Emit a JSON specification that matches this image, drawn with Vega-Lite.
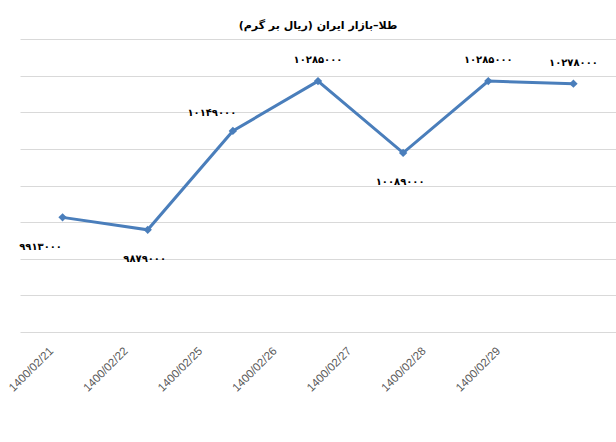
{
  "$schema": "https://vega.github.io/schema/vega-lite/v6.json",
  "autosize": "none",
  "width": 596,
  "height": 293,
  "padding": {"left": 20, "top": 39, "right": 0, "bottom": 110},
  "background": "white",
  "title": {
    "text": "طلا–بازار ایران (ریال بر گرم)",
    "font": "DejaVu Sans",
    "fontSize": 11,
    "fontWeight": "bold",
    "color": "black",
    "anchor": "middle",
    "offset": 8
  },
  "config": {"view": {"stroke": null}},
  "data": {
    "values": [
      {"date": "1400/02/21", "price": 9913000, "label": "۹۹۱۳۰۰۰"},
      {"date": "1400/02/22", "price": 9879000, "label": "۹۸۷۹۰۰۰"},
      {"date": "1400/02/25", "price": 10149000, "label": "۱۰۱۴۹۰۰۰"},
      {"date": "1400/02/26", "price": 10285000, "label": "۱۰۲۸۵۰۰۰"},
      {"date": "1400/02/27", "price": 10089000, "label": "۱۰۰۸۹۰۰۰"},
      {"date": "1400/02/28", "price": 10285000, "label": "۱۰۲۸۵۰۰۰"},
      {"date": "1400/02/29", "price": 10278000, "label": "۱۰۲۷۸۰۰۰"}
    ]
  },
  "encoding": {
    "y": {
      "field": "price",
      "type": "quantitative",
      "scale": {"domain": [9600000, 10400000], "nice": false, "zero": false},
      "axis": {
        "title": null,
        "labels": false,
        "ticks": false,
        "domain": false,
        "grid": true,
        "gridColor": "#d9d9d9",
        "gridWidth": 1,
        "values": [9600000, 9700000, 9800000, 9900000, 10000000, 10100000, 10200000, 10300000, 10400000]
      }
    }
  },
  "layer": [
    {
      "encoding": {
        "x": {
          "field": "date",
          "type": "ordinal",
          "sort": null,
          "scale": {"type": "point", "padding": 0.5},
          "axis": null
        }
      },
      "layer": [
        {"mark": {"type": "line", "color": "#4a7ebb", "strokeWidth": 3}},
        {"mark": {"type": "point", "shape": "diamond", "filled": true, "color": "#4a7ebb", "size": 70, "opacity": 1}},
        {
          "transform": [{"filter": {"field": "date", "oneOf": ["1400/02/26", "1400/02/28", "1400/02/29"]}}],
          "mark": {"type": "text", "font": "DejaVu Sans", "fontWeight": "bold", "fontSize": 10, "color": "black", "dy": -21},
          "encoding": {"text": {"field": "label"}}
        },
        {
          "transform": [{"filter": {"field": "date", "oneOf": ["1400/02/25"]}}],
          "mark": {"type": "text", "font": "DejaVu Sans", "fontWeight": "bold", "fontSize": 10, "color": "black", "dx": -21, "dy": -18},
          "encoding": {"text": {"field": "label"}}
        },
        {
          "transform": [{"filter": {"field": "date", "oneOf": ["1400/02/22", "1400/02/27"]}}],
          "mark": {"type": "text", "font": "DejaVu Sans", "fontWeight": "bold", "fontSize": 10, "color": "black", "dx": -3, "dy": 29},
          "encoding": {"text": {"field": "label"}}
        },
        {
          "transform": [{"filter": {"field": "date", "oneOf": ["1400/02/21"]}}],
          "mark": {"type": "text", "font": "DejaVu Sans", "fontWeight": "bold", "fontSize": 10, "color": "black", "dx": -22, "dy": 30},
          "encoding": {"text": {"field": "label"}}
        }
      ]
    },
    {
      "mark": {"type": "point", "opacity": 0},
      "encoding": {
        "x": {
          "field": "date",
          "type": "ordinal",
          "sort": null,
          "scale": {"type": "point", "padding": 1.11},
          "axis": {
            "orient": "bottom",
            "title": null,
            "domain": false,
            "ticks": false,
            "grid": false,
            "labelAngle": -45,
            "labelAlign": "right",
            "labelBaseline": "middle",
            "labelPadding": 17,
            "labelOffset": -43,
            "labelFont": "Liberation Sans",
            "labelFontSize": 11.5,
            "labelColor": "#595959"
          }
        }
      }
    }
  ],
  "resolve": {"scale": {"x": "independent"}, "axis": {"x": "independent"}}
}
